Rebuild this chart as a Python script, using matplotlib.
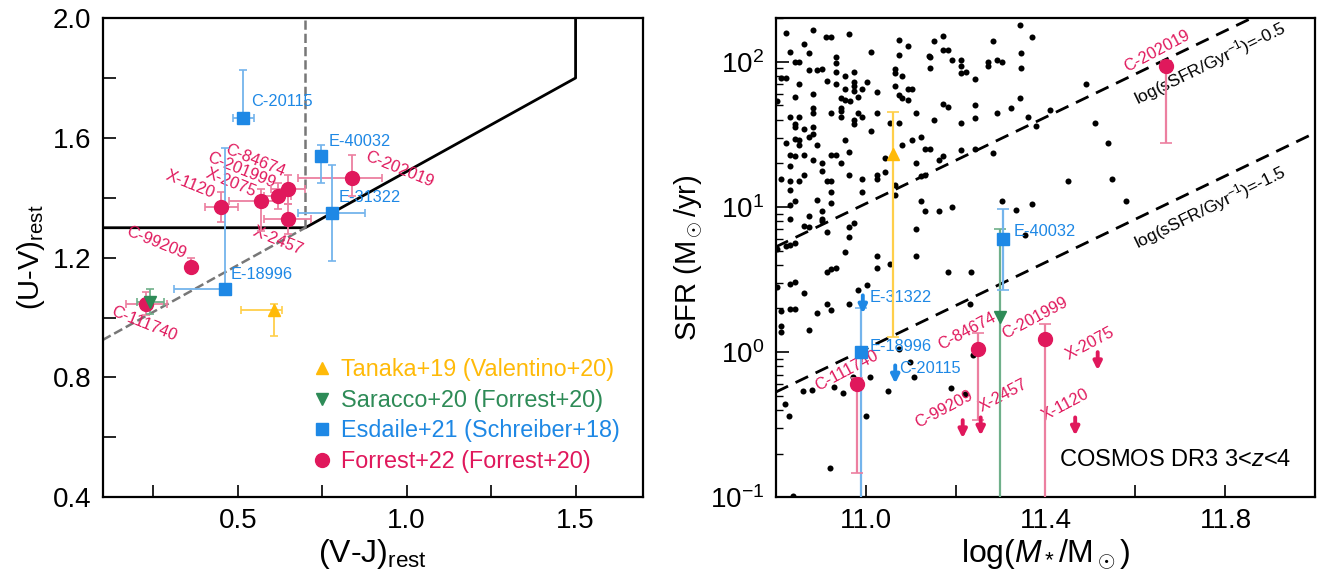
import numpy as np
import matplotlib
matplotlib.use("Agg")
import matplotlib.pyplot as plt
from matplotlib.lines import Line2D
from matplotlib.ticker import MultipleLocator, FixedLocator, NullFormatter

plt.rcParams['font.family'] = ['Liberation Sans', 'DejaVu Sans']
plt.rcParams['mathtext.fontset'] = 'custom'
plt.rcParams['mathtext.rm'] = 'Liberation Sans'
plt.rcParams['mathtext.it'] = 'Liberation Sans:italic'
plt.rcParams['mathtext.bf'] = 'Liberation Sans:bold'

# ---------------- UVJ panel data ----------------
uvj_box_vj = [0.1, 0.7, 1.5, 1.5]
uvj_box_uv = [1.3, 1.3, 1.8, 2.0]
uvj_ext_vj = [0.1, 0.7]
uvj_ext_uv = [0.925, 1.3]
uvj_vert_vj = [0.7, 0.7]
uvj_vert_uv = [1.3, 2.0]

tanaka_vj = [0.606]
tanaka_uv = [1.027]
tanaka_vj_err = [[0.096], [0.024]]
tanaka_uv_err = [[0.09], [0.02]]

saracco_vj = [0.241]
saracco_uv = [1.052]
saracco_vj_err = [[0.04], [0.04]]
saracco_uv_err = [[0.04], [0.045]]

esdaile_names = ['C-20115', 'E-40032', 'E-31322', 'E-18996']
esdaile_vj = [0.517, 0.748, 0.778, 0.462]
esdaile_uv = [1.668, 1.541, 1.35, 1.097]
esdaile_vj_err = [[0.03, 0.01, 0.10, 0.15], [0.03, 0.01, 0.10, 0.01]]
esdaile_uv_err = [[0.01, 0.09, 0.16, 0.01], [0.16, 0.035, 0.16, 0.47]]

forrest_names = ['C-202019', 'C-84674', 'C-201999', 'X-2075', 'X-1120', 'X-2457', 'C-99209', 'C-111740']
forrest_vj = [0.839, 0.649, 0.619, 0.570, 0.452, 0.649, 0.362, 0.230]
forrest_uv = [1.467, 1.430, 1.406, 1.389, 1.369, 1.329, 1.169, 1.047]
forrest_vj_err = [[0.161, 0.05, 0.04, 0.097, 0.05, 0.071, 0.01, 0.06],
                  [0.089, 0.05, 0.04, 0.05, 0.05, 0.068, 0.01, 0.06]]
forrest_uv_err = [[0.06, 0.05, 0.045, 0.10, 0.05, 0.05, 0.01, 0.04],
                  [0.075, 0.045, 0.045, 0.04, 0.05, 0.05, 0.03, 0.04]]

# ---------------- SFR-M* panel data ----------------
cosmos_logm = [
    10.823, 10.883, 10.913, 10.923, 10.964, 11.075, 10.863, 10.833, 10.874, 11.013,
    11.075, 10.934, 10.843, 10.853, 10.934, 10.903, 10.874, 10.893, 10.934, 10.974,
    11.065, 11.065, 10.813, 10.824, 10.954, 11.082, 10.914, 10.853, 10.934, 10.974,
    11.004, 10.974, 10.974, 10.993, 10.954, 11.065, 11.025, 10.883, 10.983, 10.843,
    10.804, 10.945, 10.954, 10.966, 11.075, 11.082, 10.883, 10.883, 10.945, 10.945,
    10.945, 10.923, 10.984, 11.025, 10.832, 10.853, 10.993, 10.974, 10.843, 10.843,
    10.863, 10.883, 10.974, 11.055, 11.075, 10.874, 10.883, 10.843, 10.853, 11.013,
    10.954, 10.823, 10.853, 10.893, 11.082, 10.832, 10.843, 10.863, 10.923, 10.934,
    10.964, 10.883, 10.904, 10.945, 11.044, 10.832, 10.904, 10.813, 10.832, 10.853,
    10.863, 10.914, 10.923, 10.964, 10.993, 11.025, 11.025, 11.044, 11.065,
    11.344, 11.173, 11.153, 11.283, 11.095, 11.345, 11.173, 11.184, 11.142, 11.144,
    11.193, 11.213, 11.213, 11.273, 11.273, 11.293, 11.304, 11.345, 11.144, 11.213,
    11.223, 11.244, 11.095, 11.103, 11.095, 11.344, 11.173, 11.184, 11.244, 11.113,
    11.293, 11.324, 11.244, 11.152, 11.213, 11.362, 11.123, 11.103, 11.144, 11.133,
    11.244, 11.213, 11.283, 11.113, 11.173, 11.164, 11.123, 11.133,
    10.832, 10.924, 10.993, 11.065, 10.843, 10.832, 10.893, 10.924, 10.904, 10.874,
    10.832, 10.904, 10.904, 10.863, 10.874, 10.975, 10.964, 10.914, 10.964, 10.843,
    10.832, 10.823, 10.804, 10.954, 11.025, 11.025, 11.055, 10.914, 10.924, 10.934,
    10.843, 10.832, 10.804, 11.004, 10.984, 10.863, 10.964, 10.914, 10.924, 10.893,
    10.813, 10.832, 10.843, 10.813, 10.813, 10.874, 11.075,
    11.123, 11.133, 11.164, 11.193, 11.113, 11.113, 11.184, 11.234, 11.304, 11.334,
    11.355, 11.233,
    11.370, 11.410, 11.378, 11.490, 11.510, 11.540, 11.450, 11.548, 11.578, 11.370,
    10.822, 10.830, 10.860, 10.880, 10.930, 10.950, 10.972, 11.000, 10.920, 10.838,
    11.050, 11.190, 11.220, 11.108, 11.010, 11.098, 11.240,
]
cosmos_logsfr = [
    2.20, 2.22, 2.17, 2.17, 2.19, 2.15, 2.12, 2.07, 2.06, 2.07,
    2.05, 2.03, 2.00, 2.00, 1.99, 1.95, 1.94, 1.94, 1.93, 1.93,
    1.95, 1.92, 1.89, 1.89, 1.90, 1.90, 1.87, 1.85, 1.85, 1.86,
    1.86, 1.83, 1.80, 1.81, 1.81, 1.83, 1.79, 1.78, 1.76, 1.76,
    1.73, 1.75, 1.74, 1.73, 1.77, 1.75, 1.68, 1.65, 1.68, 1.66,
    1.62, 1.65, 1.65, 1.65, 1.62, 1.62, 1.62, 1.60, 1.57, 1.55,
    1.54, 1.55, 1.57, 1.58, 1.58, 1.48, 1.50, 1.47, 1.46, 1.52,
    1.46, 1.44, 1.43, 1.43, 1.43, 1.36, 1.35, 1.36, 1.36, 1.36,
    1.38, 1.32, 1.30, 1.30, 1.34, 1.28, 1.25, 1.19, 1.18, 1.18,
    1.22, 1.18, 1.18, 1.22, 1.19, 1.22, 1.19, 1.24, 1.15,
    2.25, 2.18, 2.14, 2.14, 2.11, 2.06, 2.08, 2.08, 2.04, 2.03,
    2.01, 2.01, 1.97, 2.00, 1.97, 2.01, 2.00, 1.96, 1.96, 1.92,
    1.93, 1.88, 1.81, 1.81, 1.74, 1.75, 1.71, 1.69, 1.70, 1.65,
    1.65, 1.68, 1.61, 1.60, 1.58, 1.62, 1.48, 1.46, 1.40, 1.40,
    1.40, 1.39, 1.37, 1.30, 1.35, 1.32, 1.21, 1.22,
    1.12, 1.10, 1.10, 1.08, 1.04, 1.01, 1.05, 1.03, 0.97, 0.94,
    0.92, 0.92, 0.90, 0.87, 0.86, 0.89, 0.86, 0.83, 0.79, 0.75,
    0.74, 0.73, 0.71, 0.69, 0.66, 0.58, 0.61, 0.55, 0.57, 0.58,
    0.48, 0.47, 0.45, 0.46, 0.43, 0.41, 0.33, 0.33, 0.29, 0.27,
    0.28, 0.30, 0.30, 0.18, 0.14, 0.15, 0.02,
    1.04, 0.97, 0.97, 1.00, 0.85, 0.66, 0.55, 0.55, 1.04, 0.98,
    0.81, 0.33,
    2.17, 1.67, 1.56, 1.85, 1.58, 1.44, 1.18, 1.19, 1.04, 1.02,
    -0.36, -0.44, -0.27, -0.26, -0.24, -0.28, -0.17, -0.44, -0.80, -0.99,
    -0.27, -0.25, -0.29, -0.17, -0.17, -0.07, -0.02,
]

# constant-sSFR guide lines, as drawn in the figure
ssfr_levels = [-0.5, -1.5]
ssfr_grid_logm = [10.8, 12.0]
ssfr_zero_point = 1.224
ssfr_slope = 1.49

tanaka_logm = [11.06]
tanaka_sfr = [23.0]
tanaka_sfr_lo = [1.27]
tanaka_sfr_hi = [45.0]

saracco_logm = [11.298]
saracco_sfr = [1.74]
saracco_sfr_lo = [0.05]
saracco_sfr_hi = [7.0]

esdaile_det_names = ['E-40032', 'E-18996']
esdaile_det_logm = [11.306, 10.99]
esdaile_det_sfr = [6.05, 1.0]
esdaile_det_sfr_lo = [2.7, 0.05]
esdaile_det_sfr_hi = [9.75, 2.0]
esdaile_ul_names = ['E-31322', 'C-20115']
esdaile_ul_logm = [10.994, 11.066]
esdaile_ul_sfr = [2.46, 0.81]

forrest_det_names = ['C-202019', 'C-84674', 'C-201999', 'C-111740']
forrest_det_logm = [11.668, 11.25, 11.40, 10.98]
forrest_det_sfr = [94.0, 1.05, 1.24, 0.60]
forrest_det_sfr_lo = [27.7, 0.34, 0.05, 0.148]
forrest_det_sfr_hi = [102.0, 1.35, 1.57, 0.66]
forrest_ul_names = ['C-99209', 'X-2457', 'X-1120', 'X-2075']
forrest_ul_logm = [11.216, 11.256, 11.466, 11.516]
forrest_ul_sfr = [0.34, 0.355, 0.355, 1.0]

# ---------------- styling ----------------
RED, RED_E = '#E0185C', '#EC7FA0'
BLUE, BLUE_E = '#1E88E5', '#74B4EC'
GREEN, GREEN_E = '#2E8B57', '#6FB08A'
YELLOW, YELLOW_E = '#FFBA08', '#FFCF4A'
ARROW_DEX = 0.125
LABEL_FS = 11.8

# label offsets in pixels (dx, dy) relative to the marker
uvj_label_off = {
    'C-20115': (8, 16), 'E-40032': (7, 14), 'E-31322': (7, 15), 'E-18996': (6, 14),
    'C-202019': (47, 8), 'C-84674': (-33, 28), 'C-201999': (-37, 26), 'X-2075': (-30, 18),
    'X-1120': (-31, 23), 'X-2457': (-10, -22), 'C-99209': (-35, 24), 'C-111740': (-3, -20),
}
sfr_label_off = {
    'C-202019': (-9, 15), 'C-84674': (-11, 18), 'C-201999': (-11, 20), 'C-111740': (-10, 14),
    'C-99209': (-19, 11), 'X-2457': (22, 22), 'X-1120': (-10, 12), 'X-2075': (-8, 9),
    'E-40032': (10, 7), 'E-18996': (9, 6), 'E-31322': (7, -2), 'C-20115': (4, -3),
}


def asym(val, lo, hi):
    val, lo, hi = np.array(val), np.array(lo), np.array(hi)
    return [val - lo, hi - val]


def style_axis(ax):
    for sp in ax.spines.values():
        sp.set_linewidth(1.6)
    ax.tick_params(which='both', direction='in', top=False, right=False,
                   labelsize=20, width=1.2, pad=8)
    ax.tick_params(which='major', length=9)


fig = plt.figure(figsize=(13.25, 5.83), dpi=100)
ax1 = fig.add_axes([0.0774, 0.147, 0.408, 0.822])
ax2 = fig.add_axes([0.5853, 0.147, 0.4075, 0.822])

# ---------------- left: UVJ ----------------
ax1.plot(uvj_box_vj, uvj_box_uv, color='black', lw=2, zorder=2)
ax1.plot(uvj_ext_vj, uvj_ext_uv, color='#777777', lw=1.8, ls='--', zorder=2)
ax1.plot(uvj_vert_vj, uvj_vert_uv, color='#777777', lw=1.8, ls='--', zorder=2)

eb_kw = dict(ls='none', elinewidth=1.3, capsize=3, capthick=1.2, zorder=4)
ax1.errorbar(forrest_vj, forrest_uv, xerr=forrest_vj_err, yerr=forrest_uv_err, fmt='o',
             ms=10, color=RED, ecolor=RED_E, **eb_kw)
ax1.errorbar(esdaile_vj, esdaile_uv, xerr=esdaile_vj_err, yerr=esdaile_uv_err, fmt='s',
             ms=8, color=BLUE, ecolor=BLUE_E, **eb_kw)
ax1.errorbar(saracco_vj, saracco_uv, xerr=saracco_vj_err, yerr=saracco_uv_err, fmt='v',
             ms=9, color=GREEN, ecolor=GREEN_E, **eb_kw)
ax1.errorbar(tanaka_vj, tanaka_uv, xerr=tanaka_vj_err, yerr=tanaka_uv_err, fmt='^',
             ms=9, color=YELLOW, ecolor=YELLOW_E, **eb_kw)

for name, x, y in zip(esdaile_names, esdaile_vj, esdaile_uv):
    ax1.annotate(name, (x, y), xytext=uvj_label_off[name], textcoords='offset pixels',
                 color=BLUE, fontsize=LABEL_FS, ha='left', va='center')
for name, x, y in zip(forrest_names, forrest_vj, forrest_uv):
    ax1.annotate(name, (x, y), xytext=uvj_label_off[name], textcoords='offset pixels',
                 color=RED, fontsize=LABEL_FS, ha='center', va='center', rotation=-22)

handles = [Line2D([], [], marker='^', ls='none', color=YELLOW, ms=9),
           Line2D([], [], marker='v', ls='none', color=GREEN, ms=9),
           Line2D([], [], marker='s', ls='none', color=BLUE, ms=8),
           Line2D([], [], marker='o', ls='none', color=RED, ms=10)]
labels = ['Tanaka+19 (Valentino+20)', 'Saracco+20 (Forrest+20)',
          'Esdaile+21 (Schreiber+18)', 'Forrest+22 (Forrest+20)']
ax1.legend(handles, labels, loc='lower right', bbox_to_anchor=(0.983, 0.022), frameon=False,
           fontsize=16.8, handletextpad=0.3, labelspacing=0.32, handlelength=1.0,
           borderaxespad=0.2, labelcolor=[YELLOW, GREEN, BLUE, RED])

ax1.set_xlim(0.1, 1.7)
ax1.set_ylim(0.4, 2.0)
ax1.xaxis.set_major_locator(MultipleLocator(0.5))
ax1.xaxis.set_minor_locator(MultipleLocator(0.25))
ax1.yaxis.set_major_locator(MultipleLocator(0.4))
ax1.yaxis.set_minor_locator(MultipleLocator(0.2))
style_axis(ax1)
ax1.tick_params(which='minor', length=9)
ax1.set_xlabel(r'(V-J)$_{\rm rest}$', fontsize=23, labelpad=2)
ax1.set_ylabel(r'(U-V)$_{\rm rest}$', fontsize=21)

# ---------------- right: SFR vs M* ----------------
ax2.scatter(cosmos_logm, 10 ** np.array(cosmos_logsfr), s=19, color='black', lw=0, zorder=1)

grid_logm = np.array(ssfr_grid_logm)
for lev in ssfr_levels:
    line = lev + ssfr_zero_point + ssfr_slope * (grid_logm - ssfr_grid_logm[0])
    ax2.plot(grid_logm, 10 ** line, color='black', lw=2, ls=(0, (5, 3)), zorder=2)
ax2.text(11.765, 10 ** 1.99, r'log(sSFR/Gyr$^{-1}$)=-0.5', fontsize=12.5, rotation=26,
         ha='center', va='center')
ax2.text(11.765, 10 ** 0.996, r'log(sSFR/Gyr$^{-1}$)=-1.5', fontsize=12.5, rotation=26,
         ha='center', va='center')

eb2 = dict(ls='none', elinewidth=1.6, capsize=4, capthick=1.2, zorder=4)
ax2.errorbar(tanaka_logm, tanaka_sfr, yerr=asym(tanaka_sfr, tanaka_sfr_lo, tanaka_sfr_hi),
             fmt='^', ms=9, color=YELLOW, ecolor=YELLOW_E, **eb2)
ax2.errorbar(saracco_logm, saracco_sfr, yerr=asym(saracco_sfr, saracco_sfr_lo, saracco_sfr_hi),
             fmt='v', ms=9, color=GREEN, ecolor=GREEN_E, **eb2)
ax2.errorbar(esdaile_det_logm, esdaile_det_sfr,
             yerr=asym(esdaile_det_sfr, esdaile_det_sfr_lo, esdaile_det_sfr_hi),
             fmt='s', ms=8, color=BLUE, ecolor=BLUE_E, **eb2)
ax2.errorbar(forrest_det_logm, forrest_det_sfr,
             yerr=asym(forrest_det_sfr, forrest_det_sfr_lo, forrest_det_sfr_hi),
             fmt='o', ms=10, color=RED, ecolor=RED_E, **eb2)


def upper_limits(ax, logm, sfr, color):
    for x, y in zip(logm, sfr):
        ax.annotate('', xy=(x, y * 10 ** -ARROW_DEX), xytext=(x, y),
                    arrowprops=dict(arrowstyle='-|>', color=color, lw=2.8,
                                    mutation_scale=12, shrinkA=0, shrinkB=0), zorder=5)


upper_limits(ax2, esdaile_ul_logm, esdaile_ul_sfr, BLUE)
upper_limits(ax2, forrest_ul_logm, forrest_ul_sfr, RED)

for name, x, y in zip(esdaile_det_names + esdaile_ul_names,
                      esdaile_det_logm + esdaile_ul_logm, esdaile_det_sfr + esdaile_ul_sfr):
    ax2.annotate(name, (x, y), xytext=sfr_label_off[name], textcoords='offset pixels',
                 color=BLUE, fontsize=LABEL_FS, ha='left', va='center')
for name, x, y in zip(forrest_det_names + forrest_ul_names,
                      forrest_det_logm + forrest_ul_logm, forrest_det_sfr + forrest_ul_sfr):
    ax2.annotate(name, (x, y), xytext=sfr_label_off[name], textcoords='offset pixels',
                 color=RED, fontsize=LABEL_FS, ha='center', va='center', rotation=28)

ax2.text(0.956, 0.078, r'COSMOS DR3 3<$z$<4', transform=ax2.transAxes, fontsize=17,
         ha='right', va='center')

ax2.set_yscale('log')
ax2.set_xlim(10.8, 12.0)
ax2.set_ylim(0.1, 200)
ax2.xaxis.set_major_locator(FixedLocator([11.0, 11.4, 11.8]))
ax2.xaxis.set_minor_locator(FixedLocator([10.8, 11.2, 11.6, 12.0]))
style_axis(ax2)
ax2.tick_params(axis='x', which='minor', length=9)
ax2.tick_params(axis='y', which='minor', length=5, width=1.0)
ax2.yaxis.set_minor_formatter(NullFormatter())
ax2.set_xlabel(r'log($M_*$/M$_\odot$)', fontsize=23, labelpad=2)
ax2.set_ylabel(r'SFR (M$_\odot$/yr)', fontsize=21)

fig.savefig('out.png', dpi=100)
